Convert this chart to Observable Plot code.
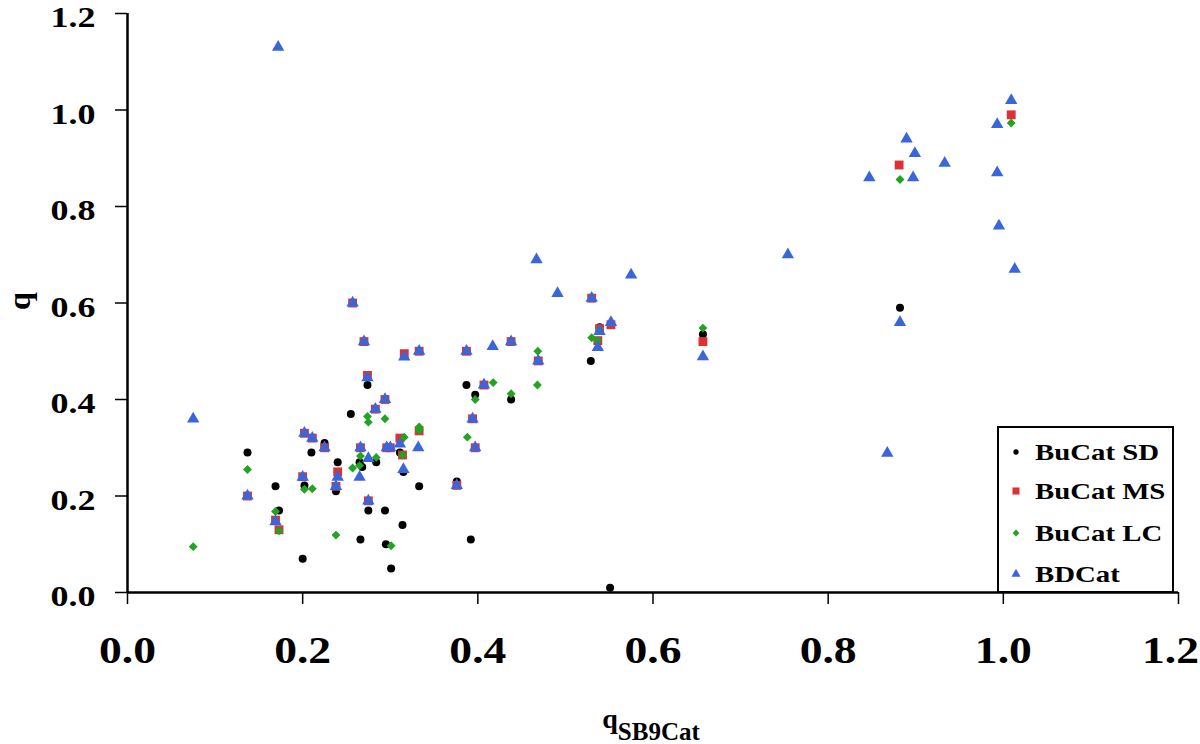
<!DOCTYPE html>
<html>
<head>
<meta charset="utf-8">
<script src="https://cdn.jsdelivr.net/npm/d3@7"></script>
<script src="https://cdn.jsdelivr.net/npm/@observablehq/plot@0.6"></script>
<style>
  html, body { margin: 0; padding: 0; background: white; overflow: hidden; }
  svg { display: block; }
</style>
</head>
<body>
<div id="chart"></div>
<script>
// ---- Data ----
const xTicks = [0.0, 0.2, 0.4, 0.6, 0.8, 1.0, 1.2];
const yTicks = [0.0, 0.2, 0.4, 0.6, 0.8, 1.0, 1.2];

const seriesNames = ["BuCat SD", "BuCat MS", "BuCat LC", "BDCat"];

// BuCat SD (black dots)
const sdX = [0.137, 0.169, 0.173, 0.200, 0.202, 0.210, 0.225, 0.240, 0.238, 0.255, 0.274, 0.265, 0.268, 0.284, 0.266, 0.275, 0.294, 0.295, 0.301, 0.311, 0.315, 0.314, 0.333, 0.376, 0.387, 0.397, 0.392, 0.438, 0.529, 0.539, 0.551, 0.657, 0.882];
const sdY = [0.29, 0.22, 0.17, 0.07, 0.222, 0.29, 0.31, 0.27, 0.21, 0.37, 0.43, 0.27, 0.26, 0.27, 0.11, 0.17, 0.17, 0.10, 0.05, 0.29, 0.25, 0.14, 0.22, 0.23, 0.43, 0.41, 0.11, 0.40, 0.48, 0.55, 0.01, 0.535, 0.59];

// BuCat MS (red squares)
const msX = [0.137, 0.169, 0.173, 0.200, 0.202, 0.211, 0.225, 0.240, 0.238, 0.257, 0.270, 0.274, 0.266, 0.275, 0.283, 0.294, 0.296, 0.300, 0.311, 0.316, 0.333, 0.314, 0.333, 0.376, 0.387, 0.394, 0.397, 0.407, 0.438, 0.469, 0.530, 0.552, 0.539, 0.537, 0.657, 0.881, 1.009];
const msY = [0.20, 0.15, 0.13, 0.24, 0.33, 0.32, 0.30, 0.25, 0.22, 0.60, 0.52, 0.45, 0.30, 0.19, 0.38, 0.40, 0.30, 0.30, 0.32, 0.495, 0.50, 0.285, 0.335, 0.222, 0.50, 0.36, 0.30, 0.43, 0.52, 0.48, 0.61, 0.555, 0.547, 0.522, 0.52, 0.886, 0.99];

// BuCat LC (green diamonds)
const lcX = [0.075, 0.137, 0.169, 0.173, 0.202, 0.211, 0.238, 0.257, 0.265, 0.266, 0.274, 0.275, 0.284, 0.294, 0.301, 0.314, 0.316, 0.333, 0.333, 0.388, 0.397, 0.4175, 0.438, 0.468, 0.4685, 0.530, 0.539, 0.537, 0.657, 0.882, 1.009];
const lcY = [0.095, 0.255, 0.168, 0.128, 0.214, 0.215, 0.119, 0.258, 0.263, 0.283, 0.365, 0.353, 0.28, 0.36, 0.097, 0.285, 0.322, 0.343, 0.336, 0.322, 0.40, 0.435, 0.412, 0.43, 0.50, 0.528, 0.545, 0.522, 0.548, 0.856, 0.973];

// BDCat (blue triangles)
const bdX = [0.075, 0.137, 0.169, 0.172, 0.200, 0.202, 0.211, 0.225, 0.240, 0.238, 0.257, 0.270, 0.274, 0.265, 0.266, 0.275, 0.275, 0.283, 0.294, 0.296, 0.300, 0.311, 0.315, 0.316, 0.333, 0.332, 0.376, 0.387, 0.394, 0.397, 0.407, 0.417, 0.438, 0.467, 0.469, 0.491, 0.530, 0.552, 0.539, 0.537, 0.575, 0.657, 0.754, 0.847, 0.8675, 0.882, 0.8895, 0.897, 0.899, 0.933, 0.993, 0.993, 0.995, 1.009, 1.013];
const bdY = [0.36, 0.20, 0.147, 1.13, 0.239, 0.33, 0.32, 0.30, 0.239, 0.22, 0.60, 0.52, 0.445, 0.239, 0.30, 0.278, 0.19, 0.38, 0.40, 0.30, 0.30, 0.308, 0.255, 0.488, 0.50, 0.30, 0.222, 0.50, 0.36, 0.30, 0.43, 0.51, 0.52, 0.69, 0.48, 0.62, 0.61, 0.56, 0.541, 0.508, 0.658, 0.489, 0.70, 0.86, 0.289, 0.56, 0.94, 0.86, 0.91, 0.89, 0.97, 0.87, 0.76, 1.02, 0.67];

const colors = ["#000000", "#dc3236", "#22a322", "#3a66dc"];
const symbols = ["circle", "square", "diamond2", "triangle"];
const radii = [4, 5, 4, 4.6];

const toRows = (xs, ys) => xs.map((x, i) => ({x, y: ys[i]}));
const series = [toRows(sdX, sdY), toRows(msX, msY), toRows(lcX, lcY), toRows(bdX, bdY)];

const serif = "'Liberation Serif', 'Times New Roman', serif";
const fmt = d3.format(".1f");
const STRETCH = 1.2; // the reference glyphs are horizontally stretched

const svg = Plot.plot({
  width: 1200,
  height: 744,
  marginLeft: 127,
  marginRight: 22,
  marginTop: 13,
  marginBottom: 152,
  x: {domain: [0, 1.2]},
  y: {domain: [0, 1.2]},
  style: {fontFamily: serif, fontWeight: "bold", background: "white", color: "black"},
  marks: [
    Plot.axisX(xTicks, {tickSize: 12, tickPadding: 32, tickFormat: fmt, label: null, strokeWidth: 1.5, fontSize: 38, ariaLabel: "x-axis"}),
    Plot.axisY(yTicks, {tickSize: 12, tickPadding: 20, tickFormat: fmt, label: null, strokeWidth: 1.5, fontSize: 30, ariaLabel: "y-axis"}),
    Plot.ruleY([0], {stroke: "black", strokeWidth: 2.5}),
    Plot.ruleX([0], {stroke: "black", strokeWidth: 2.5}),
    ...series.map((rows, k) => Plot.dot(rows, {x: "x", y: "y", symbol: symbols[k], fill: colors[k], r: radii[k], stroke: "none"}))
  ]
});

document.getElementById("chart").appendChild(svg);

// stretch the axis labels horizontally, around their anchor points
d3.select(svg).selectAll("text").each(function() {
  const t = this.getAttribute("transform");
  if (t) this.setAttribute("transform", `${t} scale(${STRETCH},1)`);
});
// y tick labels sit a little below their ticks in the reference
d3.select(svg).selectAll("g[aria-label='y-axis tick label'] text").each(function() {
  const t = this.getAttribute("transform") || "";
  this.setAttribute("transform", `translate(0,4) ${t}`);
});
// keep the last x tick label inside the picture
d3.select(svg).selectAll("g[aria-label='x-axis tick label'] text").each(function() {
  const r = this.getBoundingClientRect();
  if (r.right > 1199) {
    const t = this.getAttribute("transform") || "";
    this.setAttribute("transform", `translate(${1199 - r.right},0) ${t}`);
  }
});

const root = d3.select(svg);

// Axis titles
const xl = root.append("text")
  .attr("x", 651).attr("y", 728)
  .attr("text-anchor", "middle")
  .style("font-family", serif).style("font-weight", "bold");
xl.append("tspan").style("font-size", "28px").text("q");
xl.append("tspan").attr("dy", 12).style("font-size", "25px").text("SB9Cat");

root.append("text")
  .attr("transform", "translate(30,301) rotate(-90)")
  .attr("text-anchor", "middle")
  .style("font-family", serif).style("font-weight", "bold").style("font-size", "32px")
  .text("q");

// Legend
const lg = root.append("g");
lg.append("rect")
  .attr("x", 998).attr("y", 427).attr("width", 175).attr("height", 165)
  .attr("fill", "white").attr("stroke", "black").attr("stroke-width", 2);
const rowY = [452, 491, 533, 574];
const legSym = [d3.symbolCircle, d3.symbolSquare, d3.symbolDiamond2, d3.symbolTriangle];
const legSize = [22, 50, 30, 36];
seriesNames.forEach((name, i) => {
  lg.append("path")
    .attr("d", d3.symbol(legSym[i], legSize[i])())
    .attr("transform", `translate(1016,${rowY[i]})`)
    .attr("fill", colors[i]);
  lg.append("text")
    .attr("transform", `translate(1035,${rowY[i]}) scale(${STRETCH},1)`)
    .attr("dy", "0.35em")
    .attr("text-anchor", "start")
    .style("font-family", serif).style("font-weight", "bold").style("font-size", "24px")
    .text(name);
});
</script>
</body>
</html>
